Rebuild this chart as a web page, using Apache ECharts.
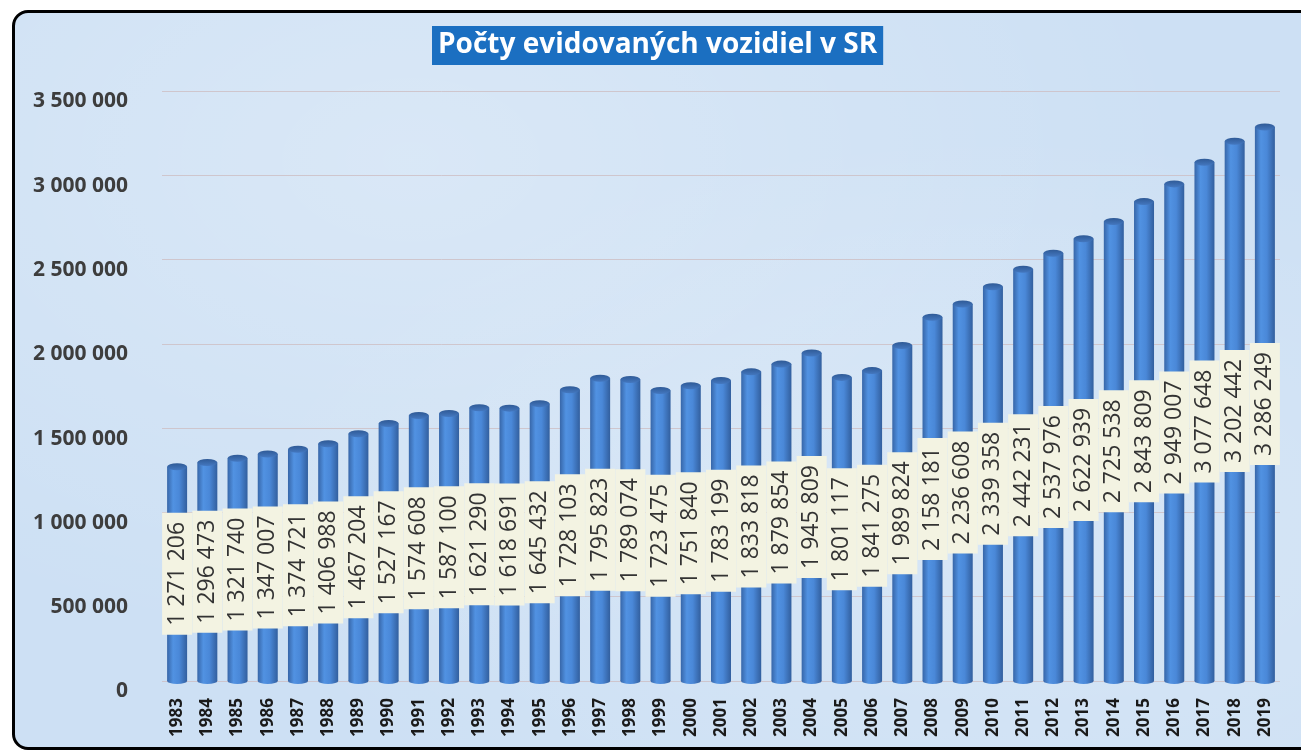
<!DOCTYPE html>
<html>
<head>
<meta charset="utf-8">
<script src="https://cdn.jsdelivr.net/npm/echarts@6/dist/echarts.min.js"></script>
<style>
  html, body { margin: 0; padding: 0; background: #ffffff; overflow: hidden; }
  #frame {
    position: absolute; left: 12px; top: 10px; width: 1320px; height: 734px;
    border: 3px solid #000; border-radius: 16px;
    background-color: #cde0f4;
    background-image:
      radial-gradient(ellipse at 30% 20%, rgba(255,255,255,0.25), rgba(255,255,255,0) 60%),
      radial-gradient(ellipse at 75% 70%, rgba(255,255,255,0.2), rgba(255,255,255,0) 55%);
  }
  #chart { position: absolute; left: 0; top: 0; width: 1301px; height: 752px; }
</style>
</head>
<body>
<div id="frame"></div>
<div id="chart"></div>
<script>
// roky a počty vozidiel
const years = ['1983', '1984', '1985', '1986', '1987', '1988', '1989', '1990', '1991', '1992',
  '1993', '1994', '1995', '1996', '1997', '1998', '1999', '2000', '2001', '2002',
  '2003', '2004', '2005', '2006', '2007', '2008', '2009', '2010', '2011', '2012',
  '2013', '2014', '2015', '2016', '2017', '2018', '2019']
const vehicles = [1271206, 1296473, 1321740, 1347007, 1374721, 1406988, 1467204, 1527167, 1574608, 1587100,
  1621290, 1618691, 1645432, 1728103, 1795823, 1789074, 1723475, 1751840, 1783199, 1833818,
  1879854, 1945809, 1801117, 1841275, 1989824, 2158181, 2236608, 2339358, 2442231, 2537976,
  2622939, 2725538, 2843809, 2949007, 3077648, 3202442, 3286249]
const yTicks = [0, 500000, 1000000, 1500000, 2000000, 2500000, 3000000, 3500000]

const fmt = v => String(v).replace(/\B(?=(\d{3})+(?!\d))/g, ' ')

// gradient valca
const bodyColor = {
  type: 'linear', x: 0, y: 0, x2: 1, y2: 0,
  colorStops: [
    { offset: 0, color: '#3766a8' },
    { offset: 0.3, color: '#5192e2' },
    { offset: 0.6, color: '#4a88d8' },
    { offset: 1, color: '#325f9e' },
  ],
}

const chart = echarts.init(document.getElementById('chart'))
chart.setOption({
  animation: false,
  title: {
    text: 'Počty evidovaných vozidiel v SR',
    left: 432,
    top: 26,
    backgroundColor: '#1b6fc1',
    padding: [4, 6, 4, 6],
    textStyle: {
      color: '#ffffff',
      fontFamily: 'Open Sans',
      fontWeight: 'bold',
      fontSize: 28,
      lineHeight: 31,
    },
  },
  grid: { left: 162, right: 21, top: 91, bottom: 71 },
  xAxis: {
    type: 'category',
    data: years,
    axisLine: { show: false },
    axisTick: { show: false },
    axisLabel: {
      rotate: 90,
      margin: 17,
      interval: 0,
      color: '#1a1a1a',
      fontFamily: 'Open Sans',
      fontWeight: 'bold',
      fontSize: 17,
    },
  },
  yAxis: {
    type: 'value',
    min: yTicks[0],
    max: yTicks[yTicks.length - 1],
    interval: 500000,
    axisLine: { show: false },
    axisTick: { show: false },
    splitLine: { lineStyle: { color: 'rgba(205,190,195,0.8)', width: 1 } },
    axisLabel: {
      margin: 34,
      verticalAlign: 'top',
      color: '#3d3d3d',
      fontFamily: 'Open Sans',
      fontWeight: 'bold',
      fontSize: 21,
      formatter: v => fmt(v),
    },
  },
  series: [
    {
      type: 'bar',
      data: vehicles,
      barWidth: 20,
      z: 3,
      itemStyle: { color: bodyColor },
      label: {
        show: true,
        position: 'inside',
        rotate: 90,
        formatter: p => fmt(p.value),
        color: '#333333',
        fontFamily: 'Open Sans',
        fontSize: 23,
        lineHeight: 24,
        backgroundColor: '#f3f3e2',
        padding: [3, 9, 3, 9],
      },
    },
    {
      // spodok valca
      type: 'pictorialBar',
      data: vehicles,
      symbol: 'circle',
      symbolSize: [20, 6],
      symbolPosition: 'start',
      symbolOffset: [0, 3],
      z: 2,
      itemStyle: { color: bodyColor },
      silent: true,
    },
    {
      // vrch valca
      type: 'pictorialBar',
      data: vehicles,
      symbol: 'circle',
      symbolSize: [20, 7],
      symbolPosition: 'end',
      symbolOffset: [0, -3.5],
      z: 4,
      itemStyle: {
        color: {
          type: 'linear', x: 0, y: 0, x2: 0, y2: 1,
          colorStops: [
            { offset: 0, color: '#2f5a96' },
            { offset: 1, color: '#4478c0' },
          ],
        },
      },
      silent: true,
    },
  ],
})
</script>
</body>
</html>
